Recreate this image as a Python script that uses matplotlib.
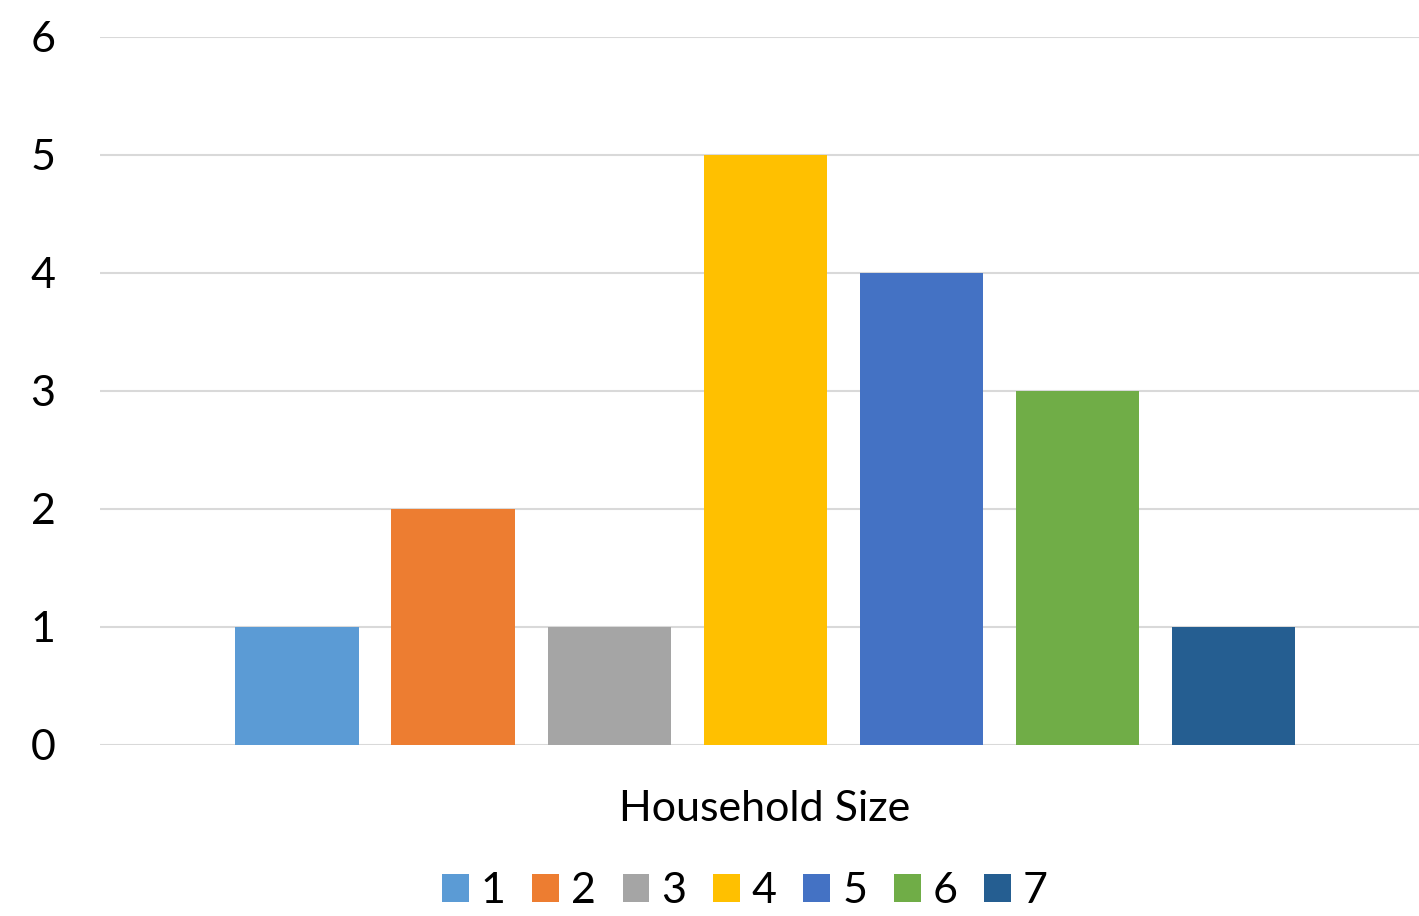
import matplotlib
matplotlib.use("Agg")
import matplotlib.pyplot as plt

# data
sizes = ["1", "2", "3", "4", "5", "6", "7"]
counts = [1, 2, 1, 5, 4, 3, 1]
colors = ["#5B9BD5", "#ED7D31", "#A5A5A5", "#FFC000", "#4472C4", "#70AD47", "#255E91"]
category = "Household Size"
y_ticks = [0, 1, 2, 3, 4, 5, 6]

plt.rcParams['font.family'] = ['Lato', 'DejaVu Sans']

W, H = 1419, 916
fig = plt.figure(figsize=(W / 100, H / 100), dpi=100)
ax = fig.add_axes([100 / W, 1 - 745 / H, 1 - 100 / W, (745 - 37) / H])

handles = []
for i, (lab, val, col) in enumerate(zip(sizes, counts, colors)):
    b = ax.bar(i, val, width=0.79, color=col, label=lab, zorder=3)
    handles.append(b)

ax.set_xlim(-1.263, 7.19)
ax.set_ylim(0, 6)
ax.set_yticks(y_ticks)
ax.set_xticks([])
ax.tick_params(axis='y', length=0, pad=32, labelsize=31)
for s in ax.spines.values():
    s.set_visible(False)
ax.yaxis.grid(True, color="#D9D9D9", linewidth=1.5, zorder=0)
ax.set_axisbelow(True)

fig.text(765 / W, 1 - 809 / H, category, ha='center', va='center', fontsize=31)

fig.legend(handles=handles, labels=sizes, loc='center', bbox_to_anchor=(745 / W, 1 - 891 / H),
           ncol=7, frameon=False, fontsize=31, handlelength=0.62, handleheight=0.62,
           handletextpad=0.28, columnspacing=0.62, borderaxespad=0, borderpad=0)

fig.savefig("out.png", dpi=100)
